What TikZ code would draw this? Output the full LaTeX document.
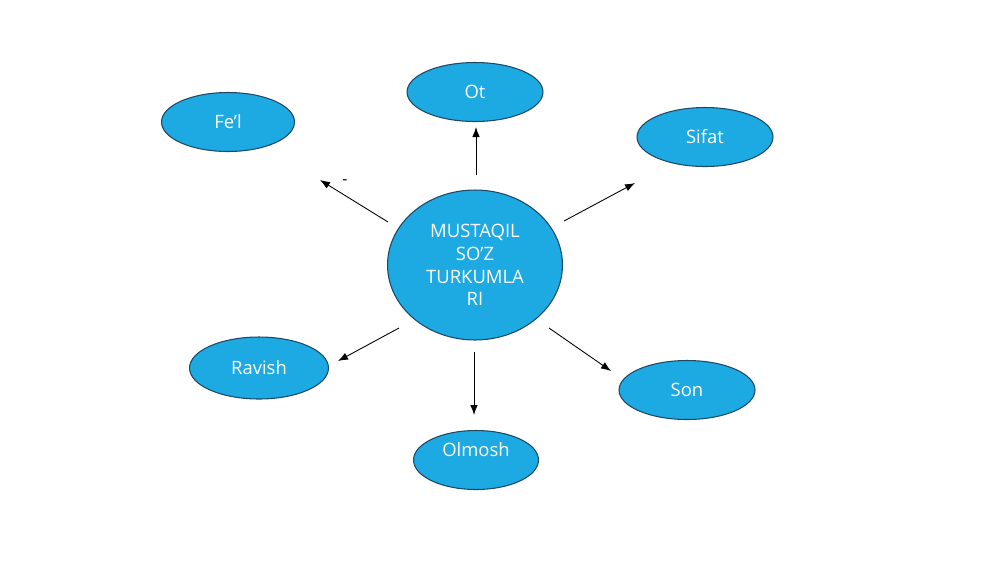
\documentclass[tikz,border=0pt]{standalone}
\usepackage{fontspec}
\setmainfont{Open Sans}
\usetikzlibrary{shapes.geometric,arrows.meta}
\definecolor{soz}{RGB}{29,169,225}
\definecolor{sozline}{RGB}{28,72,102}
\tikzset{turk/.style={ellipse, draw=sozline, fill=soz, text=white, font=\fontsize{10.5}{13}\selectfont,
           minimum width=2.72cm, minimum height=1.18cm, inner sep=0pt, line width=0.6pt},
         yoy/.style={-{Latex[length=2mm,width=1.5mm]}, black, line width=0.5pt}}
\begin{document}
\begin{tikzpicture}[x=0.02cm, y=-0.02cm]
      \useasboundingbox (0, 0) rectangle (1000, 562);
      \node (markaz) [turk, minimum width=3.5cm, minimum height=3cm, align=center] at (475, 265)
            {MUSTAQIL\\SO’Z\\TURKUMLA\\RI};
      \node (ot) [turk] at (475, 92) {Ot};
      \node (fel) [turk, minimum width=2.66cm] at (228, 122) {Fe’l};
      \node (sifat) [turk] at (705, 137) {Sifat};
      \node (ravish) [turk, minimum width=2.78cm, minimum height=1.24cm] at (259, 368) {Ravish};
      \node (son) [turk] at (687, 390) {Son};
      \node (olmosh) [turk, minimum width=2.5cm, text depth=12pt] at (476, 460) {Olmosh};
      \node (chiziq) [font=\small] at (345, 182) {-};
      % strelkalarning uchlari
      \coordinate (a1) at (476, 175);  \coordinate (b1) at (476, 127);
      \coordinate (a2) at (388, 222);  \coordinate (b2) at (320, 180);
      \coordinate (a3) at (564, 221);  \coordinate (b3) at (635, 183);
      \coordinate (a4) at (399, 328);  \coordinate (b4) at (338, 361);
      \coordinate (a5) at (474, 352);  \coordinate (b5) at (474, 415);
      \coordinate (a6) at (549, 328);  \coordinate (b6) at (611, 371);
      \foreach \i in {1,...,6}
        \draw [yoy] (a\i) -- (b\i);
\end{tikzpicture}
\end{document}
